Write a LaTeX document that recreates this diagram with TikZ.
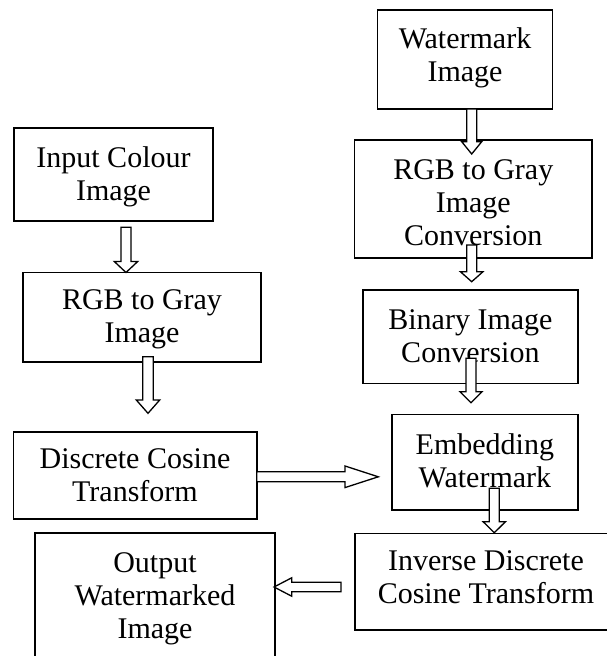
\documentclass[tikz,border=0pt]{standalone}
\usepackage{fontspec}
\setmainfont{Liberation Serif}
\usetikzlibrary{calc}

\tikzset{
  box/.style={draw, line width=1.6pt, inner sep=0pt, outer sep=0pt},
  lbl/.style={anchor=north, align=center, inner sep=0pt,
              font=\fontsize{30}{33}\selectfont},
  barrow/.style={draw, fill=white, line width=1.3pt, line join=miter},
}

% hollow block arrow: #1 tail, #2 tip, #3 half shaft width,
% #4 half head width, #5 head length (all in pt)
\newcommand\blockarrow[5]{%
  \coordinate (#1-#2-q) at ($(#2)!#5pt!(#1)$);
  \draw[barrow]
    ($(#1)!#3pt!90:(#2)$) --
    ($(#1-#2-q)!#3pt!90:(#2)$) --
    ($(#1-#2-q)!#4pt!90:(#2)$) --
    (#2) --
    ($(#1-#2-q)!#4pt!-90:(#2)$) --
    ($(#1-#2-q)!#3pt!-90:(#2)$) --
    ($(#1)!#3pt!-90:(#2)$) -- cycle;}

\begin{document}
\begin{tikzpicture}[x=1pt,y=-1pt]
\useasboundingbox (0,0) rectangle (607,656);
\clip (0,0) rectangle (607,656);

% boxes
\node[box, minimum width=175pt,   minimum height=99pt]   (wm)   at (465,59.5)    {};
\node[box, minimum width=199pt,   minimum height=93pt]   (inp)  at (113.5,174.5) {};
\node[box, minimum width=238pt,   minimum height=89.5pt] (rgbl) at (142,317.25)  {};
\node[box, minimum width=237.4pt, minimum height=118pt]  (rgbr) at (473.3,199)   {};
\node[box, minimum width=215.2pt, minimum height=93.5pt] (bin)  at (470.4,336.75){};
\node[box, minimum width=243.4pt, minimum height=87.3pt] (dct)  at (135,475.35)  {};
\node[box, minimum width=186.2pt, minimum height=95.5pt] (emb)  at (484.9,462.25){};
\node[box, minimum width=262pt,   minimum height=96.7pt] (idct) at (486,581.65)  {};
\node[box, minimum width=240pt,   minimum height=130pt]  (out)  at (155,597.7)   {};

% box texts
\node[lbl] (wmt)   at ($(wm.north)+(0,17.5)$)   {Watermark\\Image};
\node[lbl] (inpt)  at ($(inp.north)+(0,18)$)   {Input Colour\\Image};
\node[lbl] (rgblt) at ($(rgbl.north)+(0,17)$)  {RGB to Gray\\Image};
\node[lbl] (rgbrt) at ($(rgbr.north)+(0,19)$)  {RGB to Gray\\Image\\Conversion};
\node[lbl] (bint)  at ($(bin.north)+(0,19.5)$) {Binary Image\\Conversion};
\node[lbl] (dctt)  at ($(dct.north)+(0,17)$)   {Discrete Cosine\\Transform};
\node[lbl] (embt)  at ($(emb.north)+(0,18.5)$) {Embedding\\Watermark};
\node[lbl] (idctt) at ($(idct.north)+(0,17)$)  {Inverse Discrete\\Cosine Transform};
\node[lbl] (outt)  at ($(out.north)+(0,19.5)$) {Output\\Watermarked\\Image};

% arrow ends
\coordinate (a1s) at ($(inp.south)+(12.5,6.3)$);
\coordinate (a1e) at ($(rgbl.north)+(-16,0)$);
\coordinate (a2s) at ($(rgbl.south)+(6,-5.3)$);
\coordinate (a2e) at ($(dct.north)+(13,-18.4)$);
\coordinate (a3s) at ($(wm.south)+(6.7,0)$);
\coordinate (a3e) at ($(rgbr.north)+(-1.6,14)$);
\coordinate (a4s) at ($(rgbr.south)+(-1.6,-13)$);
\coordinate (a4e) at ($(bin.north)+(1.3,-8.3)$);
\coordinate (a5s) at ($(bin.south)+(0.6,-25.2)$);
\coordinate (a5e) at ($(emb.north)+(-13.9,-11.8)$);
\coordinate (a6s) at ($(emb.south)+(9.4,-21.7)$);
\coordinate (a6e) at ($(idct.north)+(8.3,-0.6)$);
\coordinate (a7s) at ($(dct.east)+(0,1.4)$);
\coordinate (a7e) at ($(emb.west)+(-13.5,14.55)$);
\coordinate (a8s) at ($(idct.west)+(-14,5.35)$);
\coordinate (a8e) at ($(out.east)+(-1,-10.7)$);

% block arrows
\blockarrow{a1s}{a1e}{5}{11.7}{11}
\blockarrow{a2s}{a2e}{5.3}{11.7}{13.3}
\blockarrow{a3s}{a3e}{5}{10}{12.3}
\blockarrow{a4s}{a4e}{5}{11.3}{10}
\blockarrow{a5s}{a5e}{5}{11}{11}
\blockarrow{a6s}{a6e}{5}{11.2}{11}
\blockarrow{a7s}{a7e}{5}{10.8}{33.3}
\blockarrow{a8s}{a8e}{4.7}{9.2}{17.7}
\end{tikzpicture}
\end{document}
